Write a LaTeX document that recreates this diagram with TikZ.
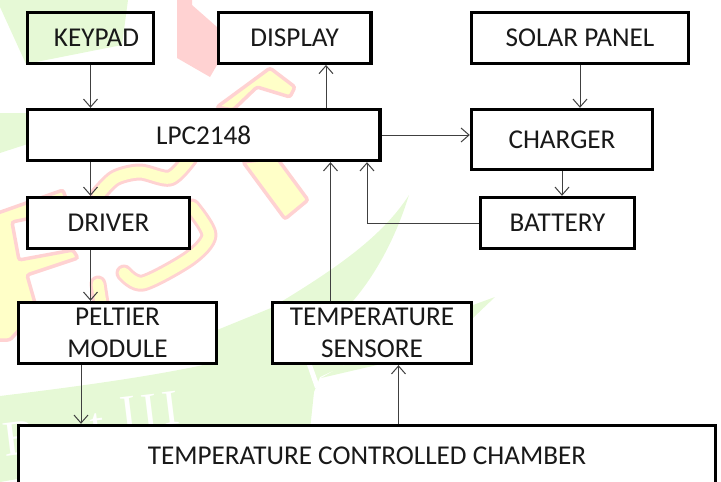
\documentclass[tikz,border=0pt]{standalone}
\usepackage{fontspec}
\setmainfont{Carlito}
\newfontfamily\markfont{Liberation Serif}
\usetikzlibrary{arrows.meta,positioning}
\definecolor{MarkGreen}{HTML}{E6F9D6}
\definecolor{MarkPink}{HTML}{FFD2D2}
\definecolor{MarkYellow}{HTML}{FFFFC8}
\definecolor{BlockInk}{HTML}{000000}
\definecolor{LinkInk}{HTML}{404040}
\tikzset{
  block/.style={draw=BlockInk, fill=white, line width=3.4pt, inner sep=0pt, align=center,
    font=\fontsize{27.2}{31.5}\selectfont, text=black!90},
  block open/.style={block, fill=none},
  link/.style={draw=LinkInk, line width=1pt, -{Straight Barb[length=8pt,width=14pt,line width=1pt]}},
  mark green/.style={fill=MarkGreen, draw=none},
  mark pink/.style={fill=MarkPink, draw=none},
  mark shape/.style={draw=MarkPink, fill=MarkYellow, line width=3.5pt, rounded corners=2.5pt},
  mark letter/.style={draw=MarkPink, line width=17pt, line join=round, line cap=round},
  mark core/.style={draw=MarkYellow, line width=11pt, line join=round, line cap=round},
  mark text/.style={font=\markfont\fontsize{50}{50}\selectfont, text=white, rotate=7, inner sep=0pt},
}
\begin{document}
\begin{tikzpicture}[x=1pt,y=-1pt]
  \useasboundingbox (0,0) rectangle (721,482);

  % watermark
  \fill[mark green] (0,7) -- (26,64) -- (122,45) -- (128,0) -- (0,0) -- cycle;
  \fill[mark green] (0,113) -- (40,113) -- (40,140) -- (0,153) -- cycle;
  \fill[mark green] (0,396) .. controls (90,385) and (160,375) .. (217,362)
    -- (217,330) -- (271,308) .. controls (330,272) and (380,240) .. (409,195)
    .. controls (395,240) and (375,275) .. (353,301)
    -- (353,360) -- (321,378) -- (390,362) -- (473,318) -- (495,297) -- (473,305) -- (440,320)
    -- (320,377) -- (314,392) -- (310,430) -- (0,482) -- cycle;
  \fill[white] (123,364) -- (132,377) -- (200,362) -- (198,364) -- (133,373) -- (127,364) -- cycle;
  \fill[white] (306,362) -- (315,388) -- (320,387) -- (311,362) -- cycle;
  \node[mark text] (markb) at (20,438) {B};
  \node[mark text] (markt) at (98,428) {t};
  \node[mark text] (markiii) at (150,411) {I\kern4.5pt I\kern4.5pt I};
  \fill[mark pink] (177,0) -- (192,0) -- (192,5) -- (217,27) -- (217,65) -- (210,77) -- (177,58) -- cycle;
  \path[mark shape] (217,107) -- (270,68) -- (295,87) -- (290,97) -- (257,87) -- (233,110) -- cycle;
  \path[mark shape] (243,162) -- (285,219) -- (308,200) -- (277,158) -- cycle;
  \path[mark shape] (-5,214) -- (63,190) -- (70,210) -- (12,222) -- (19,260) -- (73,250) -- (78,258)
    -- (27,275) -- (37,310) -- (10,340) -- (-5,340) -- cycle;
  \path[mark letter] plot[smooth] coordinates {(192,207) (209,235) (190,258) (143,283) (124,273)};
  \path[mark core] plot[smooth] coordinates {(192,207) (209,235) (190,258) (143,283) (124,273)};
  \path[mark letter] plot[smooth] coordinates {(98,195) (115,178) (140,172) (170,178) (190,158)};
  \path[mark core] plot[smooth] coordinates {(98,195) (115,178) (140,172) (170,178) (190,158)};
  \path[mark letter] (98,284) -- (102,310);
  \path[mark core] (98,284) -- (102,310);

  \node[block open] (keypad) at (90.5,38) [minimum width=126pt, minimum height=50.5pt] {\hspace*{12pt}KEYPAD};
  \node[block] (display) at (294.7,38) [minimum width=152.5pt, minimum height=50.5pt] {DISPLAY};
  \node[block] (lpc) at (203.7,135) [minimum width=352.5pt, minimum height=51pt] {LPC2148};
  \node[block] (driver) at (108.5,223) [minimum width=162pt, minimum height=51pt] {DRIVER};
  \node[block] (peltier) at (117.5,333) [minimum width=198pt, minimum height=61pt] {PELTIER\\MODULE};
  \node[block] (sensor) at (372,333) [minimum width=199pt, minimum height=61pt] {TEMPERATURE\\SENSORE};
  \node[block] (chamber) at (367,456) [minimum width=697pt, minimum height=61pt] {TEMPERATURE CONTROLLED CHAMBER};
  \node[block] (solar) at (580,38) [minimum width=217pt, minimum height=50.5pt] {SOLAR PANEL};
  \node[block] (charger) at (562,139.5) [minimum width=181pt, minimum height=60pt] {CHARGER};
  \node[block] (battery) at (557.5,223) [minimum width=154pt, minimum height=51pt] {BATTERY};

  \coordinate (colpeltier) at (81,0);
  \coordinate (colsensor) at (330.5,0);
  \coordinate (coldisplay) at (326,0);
  \coordinate (colbattery) at (367,0);
  \coordinate (colchamber) at (398.5,0);

  \draw[link] (keypad.south) -- (lpc.north -| keypad.south);
  \draw[link] (lpc.south -| keypad.south) -- (driver.north -| keypad.south);
  \draw[link] (driver.south -| keypad.south) -- (peltier.north -| keypad.south);
  \draw[link] (peltier.south -| colpeltier) -- (chamber.north -| colpeltier);
  \draw[link] (chamber.north -| colchamber) -- (sensor.south -| colchamber);
  \draw[link] (sensor.north -| colsensor) -- (lpc.south -| colsensor);
  \draw[link] (lpc.north -| coldisplay) -- (display.south -| coldisplay);
  \draw[link] (lpc.east) -- (lpc.east -| charger.west);
  \draw[link] (solar.south) -- (charger.north -| solar.south);
  \draw[link] (charger.south) -- (battery.north -| charger.south);
  \draw[link] (battery.west) -| (lpc.south -| colbattery);
\end{tikzpicture}
\end{document}
